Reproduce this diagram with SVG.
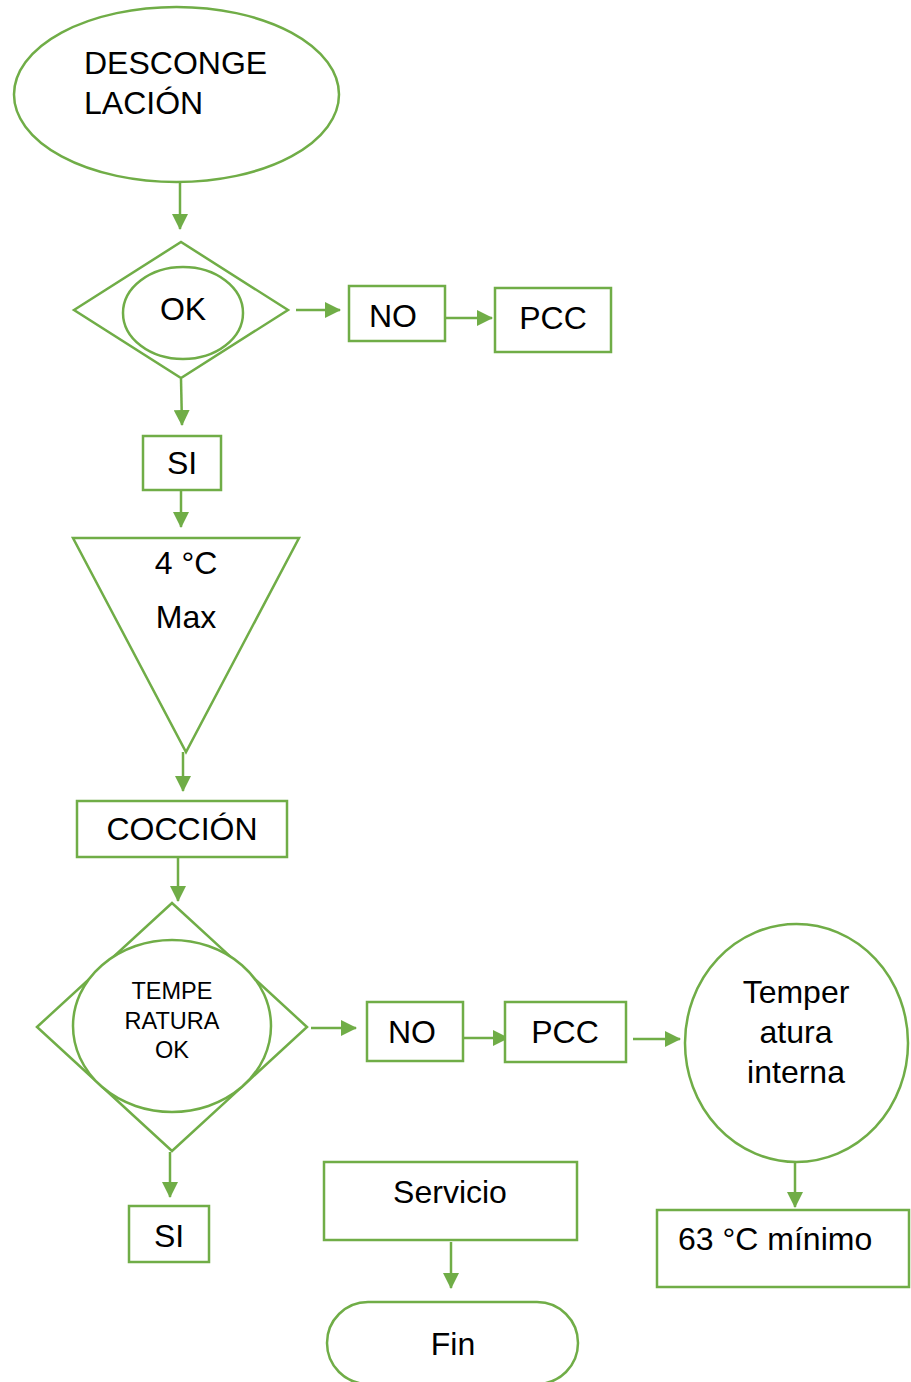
<svg xmlns="http://www.w3.org/2000/svg" width="911" height="1382" viewBox="0 0 911 1382">
  <defs>
    <marker id="arrow" markerUnits="userSpaceOnUse" markerWidth="16" markerHeight="16" refX="15" refY="8" orient="auto">
      <path d="M0,0 L16,8 L0,16 Z" fill="#70AD47"/>
    </marker>
    <style>
      .shape { fill: #ffffff; stroke: #70AD47; stroke-width: 2.5; }
      .link { fill: none; stroke: #70AD47; stroke-width: 2.5; marker-end: url(#arrow); }
      .label { font-family: "Liberation Sans", Arial, sans-serif; font-size: 32px; fill: #000000; }
      .mid { text-anchor: middle; }
      .small { font-size: 23.5px; }
    </style>
  </defs>
  <rect width="911" height="1382" fill="#ffffff"/>

  <!-- connectors -->
  <g id="connectors">
    <path class="link" d="M180,183 L180,229"/>
    <path class="link" d="M296,310 L340,310"/>
    <path class="link" d="M445,318 L492,318"/>
    <path class="link" d="M181,379 L182,425"/>
    <path class="link" d="M181,483 L181,527"/>
    <path class="link" d="M183,752 L183,791"/>
    <path class="link" d="M178,857 L178,901"/>
    <path class="link" d="M311,1028 L356,1028"/>
    <path class="link" d="M463,1038 L508,1038"/>
    <path class="link" d="M633,1039 L680,1039"/>
    <path class="link" d="M795,1163 L795,1207"/>
    <path class="link" d="M170,1152 L170,1197"/>
    <path class="link" d="M451,1242 L451,1288"/>
  </g>

  <g id="descongelacion">
    <ellipse class="shape" cx="176.5" cy="94.5" rx="162.5" ry="87.5"/>
    <text class="label" x="84" y="74" font-size="32.5">DESCONGE</text>
    <text class="label" x="84" y="114" font-size="32.5">LACIÓN</text>
  </g>

  <g id="decision-ok">
    <polygon class="shape" points="74,310 181,242 288,310 181,378"/>
    <ellipse class="shape" cx="183" cy="313" rx="60" ry="46"/>
    <text class="label mid" x="183" y="320" font-size="29.5">OK</text>
  </g>

  <g id="no-1">
    <rect class="shape" x="349" y="286" width="96" height="55"/>
    <text class="label mid" x="393" y="327">NO</text>
  </g>

  <g id="pcc-1">
    <rect class="shape" x="495" y="288" width="116" height="64"/>
    <text class="label mid" x="553" y="329">PCC</text>
  </g>

  <g id="si-1">
    <rect class="shape" x="143" y="436" width="78" height="54"/>
    <text class="label mid" x="182" y="474">SI</text>
  </g>

  <g id="temp-max">
    <polygon class="shape" points="73,538 299,538 186,752"/>
    <text class="label mid" x="186" y="574">4 °C</text>
    <text class="label mid" x="186" y="628">Max</text>
  </g>

  <g id="coccion">
    <rect class="shape" x="77" y="801" width="210" height="56"/>
    <text class="label mid" x="182" y="840">COCCIÓN</text>
  </g>

  <g id="decision-temperatura">
    <polygon class="shape" points="37,1027 172,903 307,1027 172,1151"/>
    <ellipse class="shape" cx="172" cy="1026" rx="99" ry="86"/>
    <text class="label mid small" x="172" y="999">TEMPE</text>
    <text class="label mid small" x="172" y="1029">RATURA</text>
    <text class="label mid small" x="172" y="1058">OK</text>
  </g>

  <g id="no-2">
    <rect class="shape" x="367" y="1002" width="96" height="59"/>
    <text class="label mid" x="412" y="1043">NO</text>
  </g>

  <g id="pcc-2">
    <rect class="shape" x="505" y="1002" width="121" height="60"/>
    <text class="label mid" x="565" y="1043">PCC</text>
  </g>

  <g id="temperatura-interna">
    <ellipse class="shape" cx="796.5" cy="1043" rx="111.5" ry="119"/>
    <text class="label mid" x="796" y="1003">Temper</text>
    <text class="label mid" x="796" y="1043">atura</text>
    <text class="label mid" x="796" y="1083">interna</text>
  </g>

  <g id="minimo">
    <rect class="shape" x="657" y="1210" width="252" height="77"/>
    <text class="label" x="678" y="1250">63 °C mínimo</text>
  </g>

  <g id="si-2">
    <rect class="shape" x="129" y="1206" width="80" height="56"/>
    <text class="label mid" x="169" y="1247">SI</text>
  </g>

  <g id="servicio">
    <rect class="shape" x="324" y="1162" width="253" height="78"/>
    <text class="label mid" x="450" y="1203">Servicio</text>
  </g>

  <g id="fin">
    <rect class="shape" x="327" y="1302" width="251" height="82" rx="41" ry="41"/>
    <text class="label mid" x="453" y="1355">Fin</text>
  </g>
</svg>
